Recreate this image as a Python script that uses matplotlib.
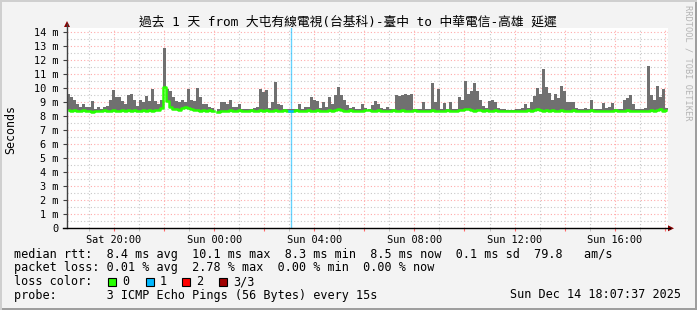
import matplotlib
matplotlib.use('Agg')
import matplotlib.pyplot as plt
import matplotlib.dates as mdates
from matplotlib.lines import Line2D
from matplotlib.patches import Rectangle, Polygon
from matplotlib.ticker import MultipleLocator, FuncFormatter
import numpy as np
import pandas as pd

title = '過去 1 天 from 大屯有線電視(台基科)-臺中 to 中華電信-高雄 延遲'
start = pd.Timestamp('2025-12-13 18:07:37')
end = pd.Timestamp('2025-12-14 18:07:37')
step = '432s'   # one bar per 7.2 min

# highest ping in each step (ms)
smoke_top = [
    9.6, 9.4, 9.15, 8.85, 8.7, 8.9, 8.65, 8.7, 9.1, 8.55,
    8.65, 8.55, 8.65, 8.75, 9.2, 9.9, 9.4, 9.35, 9.1, 8.9,
    9.55, 9.6, 9.2, 8.75, 9.15, 9.0, 9.45, 9.1, 9.95, 9.1,
    8.85, 9.2, 12.85, 9.95, 9.8, 9.35, 9.1, 9.0, 9.15, 9.0,
    9.95, 9.2, 9.1, 10.05, 9.35, 8.85, 8.85, 8.65, 8.6, np.nan,
    8.55, 9.0, 9.0, 8.9, 9.2, 8.7, 8.65, 8.85, 8.55, 8.5,
    8.5, 8.5, 8.6, 8.7, 9.95, 9.75, 9.9, 8.6, 9.0, 10.45,
    8.9, 8.8, 8.55, 8.5, 8.5, 8.5, 8.55, 8.85, 8.55, 8.7,
    8.7, 9.35, 9.2, 9.1, 8.6, 9.0, 8.65, 9.4, 8.85, 9.5,
    10.1, 9.55, 9.2, 8.8, 8.6, 8.65, 8.5, 8.55, 8.85, 8.6,
    8.55, 8.8, 9.1, 8.9, 8.6, 8.5, 8.65, 8.5, 8.5, 9.55,
    9.45, 9.5, 9.6, 9.55, 9.6, 8.5, 8.5, 8.5, 9.0, 8.5,
    8.55, 10.4, 9.0, 9.95, 8.55, 8.95, 8.5, 9.0, 8.55, 8.5,
    9.35, 9.2, 10.5, 9.6, 9.8, 10.4, 9.8, 9.2, 8.75, 8.6,
    9.1, 9.2, 9.0, 8.6, 8.5, 8.5, 8.45, 8.45, 8.45, 8.5,
    8.5, 8.6, 8.9, 8.6, 9.0, 9.45, 10.05, 9.6, 11.35, 10.1,
    9.7, 9.2, 9.6, 9.3, 10.2, 9.8, 9.0, 9.0, 9.0, 8.6,
    8.55, 8.55, 8.6, 8.55, 9.2, 8.55, 8.5, 8.55, 8.95, 8.6,
    8.65, 8.95, 8.55, 8.5, 8.55, 9.2, 9.3, 9.55, 8.9, 8.55,
    8.5, 8.5, 8.6, 11.6, 9.55, 9.2, 10.15, 9.4, 9.95, 8.6,
]

# median rtt (ms)
median = [
    8.45, 8.4, 8.45, 8.4, 8.4, 8.45, 8.4, 8.35, 8.3, 8.35,
    8.4, 8.4, 8.45, 8.4, 8.4, 8.45, 8.4, 8.4, 8.45, 8.4,
    8.45, 8.4, 8.45, 8.4, 8.4, 8.45, 8.4, 8.45, 8.4, 8.45,
    8.45, 8.6, 10.1, 9.1, 8.7, 8.55, 8.5, 8.45, 8.6, 8.65,
    8.6, 8.5, 8.45, 8.45, 8.4, 8.45, 8.4, 8.45, 8.4, np.nan,
    8.3, 8.35, 8.4, 8.4, 8.45, 8.4, 8.4, 8.45, 8.4, 8.4,
    8.4, 8.45, 8.4, 8.4, 8.45, 8.4, 8.45, 8.4, 8.4, 8.45,
    8.4, 8.4, 8.45, 8.4, 8.4, 8.4, 8.45, 8.4, 8.4, 8.4,
    8.45, 8.4, 8.4, 8.45, 8.4, 8.4, 8.4, 8.45, 8.4, 8.45,
    8.55, 8.45, 8.4, 8.4, 8.45, 8.4, 8.4, 8.4, 8.4, 8.45,
    8.45, 8.4, 8.4, 8.45, 8.4, 8.4, 8.4, 8.4, 8.45, 8.4,
    8.4, 8.45, 8.4, 8.4, 8.4, 8.45, 8.4, 8.4, 8.4, 8.4,
    8.4, 8.45, 8.4, 8.4, 8.4, 8.4, 8.45, 8.4, 8.4, 8.4,
    8.45, 8.45, 8.55, 8.5, 8.45, 8.4, 8.45, 8.45, 8.4, 8.45,
    8.4, 8.4, 8.45, 8.4, 8.4, 8.35, 8.35, 8.35, 8.35, 8.4,
    8.4, 8.4, 8.4, 8.45, 8.4, 8.45, 8.5, 8.45, 8.4, 8.45,
    8.4, 8.45, 8.4, 8.4, 8.45, 8.4, 8.4, 8.4, 8.45, 8.4,
    8.4, 8.4, 8.4, 8.4, 8.45, 8.4, 8.4, 8.4, 8.4, 8.4,
    8.4, 8.4, 8.45, 8.4, 8.4, 8.4, 8.45, 8.4, 8.4, 8.4,
    8.4, 8.4, 8.4, 8.4, 8.45, 8.4, 8.45, 8.5, 8.4, 8.45,
]

# lost pings out of 3 in each step
loss = [0] * 74 + [1] + [0] * 125

loss_labels = ['0', '1', '2', '3/3']
loss_colors = ['#26ff00', '#00b8ff', '#ff0000', '#a00000']

stats_rtt = 'median rtt:  8.4 ms avg  10.1 ms max  8.3 ms min  8.5 ms now  0.1 ms sd  79.8   am/s'
stats_loss = 'packet loss: 0.01 % avg  2.78 % max  0.00 % min  0.00 % now'
probe_text = 'probe:       3 ICMP Echo Pings (56 Bytes) every 15s'
stamp = 'Sun Dec 14 18:07:37 2025'

W, H = 697, 310
MONO = ['DejaVu Sans Mono', 'Noto Sans CJK TC']
plt.rcParams['font.family'] = MONO


def fx(x):
    return x / W


def fy(y):
    return 1 - y / H


fig = plt.figure(figsize=(W / 100, H / 100), dpi=100, facecolor='#f3f3f3')

# plot area in pixels: x 67..668, y 28..228.3
left, right, top, bottom = 67, 668, 28, 228.3
ax = fig.add_axes([fx(left), fy(bottom), fx(right - left), (bottom - top) / H])
ax.set_facecolor('white')

t = pd.date_range(start, periods=len(smoke_top), freq=step)
width = pd.Timedelta(step) / pd.Timedelta('1D')
xs = mdates.date2num(t)
top_arr = np.array(smoke_top)
med_arr = np.array(median)

ax.bar(xs, top_arr - med_arr, bottom=med_arr, width=width, align='edge',
       color='#707070', linewidth=0, zorder=2)

# loss markers (full height) and median coloured by loss
loss_arr = np.array(loss)
for i, n in enumerate(loss):
    if n > 0:
        ax.axvline(xs[i] + width / 2, color=loss_colors[n], lw=1, alpha=0.6, zorder=1.5)
xc = xs + width / 2
for level, col in enumerate(loss_colors):
    y = np.where(loss_arr == level, med_arr, np.nan)
    ax.plot(xc, y, color=col, lw=1.8, zorder=3, drawstyle='steps-mid')

ax.set_xlim(mdates.date2num(start), mdates.date2num(end))
ax.set_ylim(0, (bottom - top) / 14)

# grids
ax.xaxis.set_major_locator(mdates.HourLocator(byhour=range(0, 24, 2)))
ax.xaxis.set_minor_locator(mdates.HourLocator())
ax.xaxis.set_major_formatter(FuncFormatter(
    lambda v, p: mdates.num2date(v).strftime('%a %H:%M') if mdates.num2date(v).hour % 4 == 0 else ''))
ax.yaxis.set_major_locator(MultipleLocator(1))
ax.yaxis.set_minor_locator(MultipleLocator(0.5))
ax.yaxis.set_major_formatter(FuncFormatter(lambda v, p: '0' if v == 0 else f'{int(round(v))} m'))

ax.grid(which='major', color='#ffaaaa', linestyle=(0, (1, 2)), linewidth=0.8)
ax.grid(which='minor', color='#c8c8c8', linestyle=(0, (1, 2)), linewidth=0.8)
ax.set_axisbelow(True)

for s in ax.spines.values():
    s.set_visible(False)

ax.tick_params(axis='x', which='major', length=2, color='#ff6666', pad=3, labelsize=7.4)
ax.tick_params(axis='x', which='minor', length=2, color='#bbbbbb')
ax.tick_params(axis='y', which='major', length=3, color='#404040', pad=3, labelsize=7.4)
ax.tick_params(axis='y', which='minor', length=0)

# axis lines with arrows
fig.add_artist(Line2D([fx(left), fx(left)], [fy(bottom), fy(24)], color='#404040', lw=1))
fig.add_artist(Line2D([fx(left - 4), fx(670)], [fy(bottom), fy(bottom)], color='#000000', lw=1))
fig.add_artist(Polygon([(fx(64), fy(27)), (fx(70), fy(27)), (fx(67), fy(21))],
                       closed=True, color='#8b0000', lw=0))
fig.add_artist(Polygon([(fx(668), fy(225.3)), (fx(668), fy(231.3)), (fx(674), fy(228.3))],
                       closed=True, color='#8b0000', lw=0))

fig.text(fx(348), fy(22), title, ha='center', va='center', fontsize=9.2, family=MONO)
fig.text(fx(11), fy(129), 'Seconds', rotation=90, ha='center', va='center', fontsize=8.4)
fig.text(fx(688), fy(5), 'RRDTOOL / TOBI OETIKER', rotation=270, ha='center', va='top',
         fontsize=6.2, color='#b4b4b4')

fs = 8.5
x0 = fx(14)
fig.text(x0, fy(254.3), stats_rtt, va='center', fontsize=fs)
fig.text(x0, fy(268), stats_loss, va='center', fontsize=fs)
fig.text(x0, fy(281.7), 'loss color:', va='center', fontsize=fs)
box_x = [108.3, 145.7, 182.3, 219.3]
for bx, lab, col in zip(box_x, loss_labels, loss_colors):
    fig.add_artist(Rectangle((fx(bx), fy(286)), fx(8), 8 / H, facecolor=col,
                             edgecolor='black', lw=0.8))
    fig.text(fx(bx + 14), fy(281.7), lab, va='center', fontsize=fs)
fig.text(x0, fy(295), probe_text, va='center', fontsize=fs)
fig.text(fx(681), fy(295), stamp, ha='right', va='center', fontsize=fs)

# frame
fig.add_artist(Rectangle((0, 0), 1, 2.5 / H, facecolor='#9e9e9e', lw=0))
fig.add_artist(Rectangle((1 - 2.5 / W, 0), 2.5 / W, 1, facecolor='#9e9e9e', lw=0))
fig.add_artist(Rectangle((0, 1 - 1.5 / H), 1, 1.5 / H, facecolor='#cfcfcf', lw=0))
fig.add_artist(Rectangle((0, 0), 1.5 / W, 1, facecolor='#cfcfcf', lw=0))

fig.savefig('out.png', dpi=100, facecolor=fig.get_facecolor())
